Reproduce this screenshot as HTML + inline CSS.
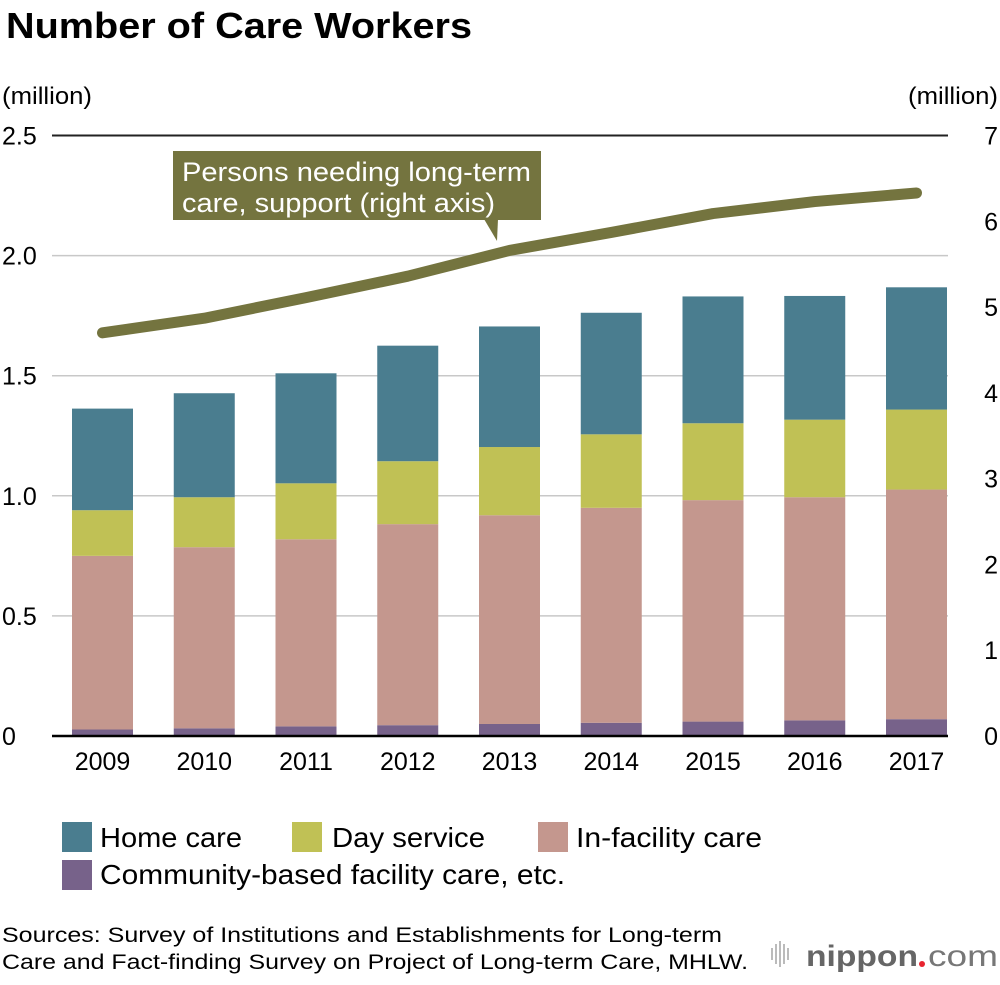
<!DOCTYPE html>
<html><head><meta charset="utf-8"><style>
body{margin:0;background:#fff;}
svg text{font-family:"Liberation Sans",Arial,sans-serif;}
</style></head><body>
<svg id="chart" width="1000" height="980" viewBox="0 0 1000 980" xmlns="http://www.w3.org/2000/svg">
<text x="6" y="38" font-size="36" font-weight="bold" fill="#000" textLength="466" lengthAdjust="spacingAndGlyphs">Number of Care Workers</text>
<text x="2" y="104" font-size="24" textLength="90" lengthAdjust="spacingAndGlyphs">(million)</text>
<text x="908" y="104" font-size="24" textLength="90" lengthAdjust="spacingAndGlyphs">(million)</text>
<g id="grid"></g>
<g id="bars"></g>
<g id="axes"></g>
<g id="line"></g>
<g>
<rect x="173" y="151" width="368" height="69" fill="#74743f"/>
<polygon points="484,219 498,219 497,241" fill="#74743f"/>
<text x="182" y="181" font-size="27" fill="#fff" textLength="349" lengthAdjust="spacingAndGlyphs">Persons needing long-term</text>
<text x="182" y="212" font-size="27" fill="#fff" textLength="313" lengthAdjust="spacingAndGlyphs">care, support (right axis)</text>
</g>
<g>
<g><rect x="62" y="822" width="30" height="30" fill="#4a7d8f"/><text x="100" y="847" font-size="28" textLength="142" lengthAdjust="spacingAndGlyphs">Home care</text></g>
<g><rect x="292" y="822" width="30" height="30" fill="#c0c155"/><text x="332" y="847" font-size="28" textLength="153" lengthAdjust="spacingAndGlyphs">Day service</text></g>
<g><rect x="538" y="822" width="30" height="30" fill="#c4978e"/><text x="576" y="847" font-size="28" textLength="186" lengthAdjust="spacingAndGlyphs">In-facility care</text></g>
<g><rect x="62" y="860" width="30" height="30" fill="#77628a"/><text x="100" y="884" font-size="28" textLength="465" lengthAdjust="spacingAndGlyphs">Community-based facility care, etc.</text></g>
</g>
<text x="2" y="942" font-size="21" textLength="720" lengthAdjust="spacingAndGlyphs">Sources: Survey of Institutions and Establishments for Long-term</text>
<text x="2" y="969" font-size="21" textLength="746" lengthAdjust="spacingAndGlyphs">Care and Fact-finding Survey on Project of Long-term Care, MHLW.</text>
<g>
<g fill="#bbb"><rect x="771" y="948" width="2" height="12"/><rect x="775" y="944" width="2" height="20"/><rect x="779" y="941" width="2" height="26"/><rect x="783" y="944" width="2" height="20"/><rect x="787" y="948" width="2" height="12"/></g>
<text x="806" y="966" font-size="30" font-weight="bold" fill="#666" textLength="112" lengthAdjust="spacingAndGlyphs">nippon</text>
<circle cx="922" cy="964" r="3" fill="#e8242f"/>
<text x="928" y="966" font-size="30" fill="#777" textLength="70" lengthAdjust="spacingAndGlyphs">com</text>
</g>
</svg>
<script>
const years = ["2009","2010","2011","2012","2013","2014","2015","2016","2017"];
const community = [0.027,0.032,0.040,0.045,0.050,0.055,0.060,0.065,0.070];
const inFacility = [0.723,0.754,0.779,0.837,0.869,0.895,0.922,0.929,0.956];
const dayService = [0.190,0.208,0.233,0.262,0.284,0.306,0.320,0.323,0.333];
const homeCare = [0.423,0.433,0.458,0.481,0.502,0.506,0.528,0.515,0.509];
const personsNeeding = [4.70,4.87,5.11,5.36,5.66,5.87,6.09,6.23,6.33];
const leftTicks = [0,0.5,1.0,1.5,2.0,2.5];
const leftTickLabels = ["0","0.5","1.0","1.5","2.0","2.5"];
const rightTicks = [0,1,2,3,4,5,6,7];

const NS="http://www.w3.org/2000/svg";
const x0=52,x1=948,y0=736,yTop=135.5;
const yL=v=>y0-(y0-yTop)*v/2.5;
const yR=v=>y0-(y0-yTop)*v/7;
const step=101.75;
const xC=i=>102.5+step*i;
const barW=61;
function mk(tag,attrs,parent){const e=document.createElementNS(NS,tag);for(const k in attrs)e.setAttribute(k,attrs[k]);parent.appendChild(e);return e;}
const gridG=document.getElementById('grid'),barsG=document.getElementById('bars'),axesG=document.getElementById('axes'),lineG=document.getElementById('line');
leftTicks.forEach((t,i)=>{
  if(t>0&&t<2.5){const l=mk('line',{x1:x0,x2:x1,y1:yL(t),y2:yL(t),stroke:'#c8c8c8','stroke-width':1.5},gridG);
  
  }
  const tx=mk('text',{x:2,y:yL(t)+9,'font-size':25},axesG);tx.textContent=leftTickLabels[i];
  
  
});
rightTicks.forEach(t=>{
  const tx=mk('text',{x:998,y:yR(t)+9,'font-size':25,'text-anchor':'end'},axesG);tx.textContent=String(t);
  
  
});
const series=[[community,'#77628a','community'],[inFacility,'#c4978e','in-facility'],[dayService,'#c0c155','day-service'],[homeCare,'#4a7d8f','home-care']];
years.forEach((yr,i)=>{
  let cum=0;
  series.forEach(([arr,col,nm])=>{
    const yt=yL(cum+arr[i]),yb=yL(cum);
    const r=mk('rect',{x:xC(i)-barW/2,y:yt,width:barW,height:yb-yt,fill:col},barsG);
    
    
    cum+=arr[i];
  });
  const tx=mk('text',{x:xC(i),y:770,'font-size':25,'text-anchor':'middle'},axesG);tx.textContent=yr;
  
  
});
const topLine=mk('line',{x1:x0,x2:x1,y1:yTop,y2:yTop,stroke:'#222','stroke-width':2},axesG);


const baseLine=mk('line',{x1:x0,x2:x1,y1:y0,y2:y0,stroke:'#000','stroke-width':2.5},axesG);


const pts=personsNeeding.map((v,i)=>xC(i)+','+yR(v)).join(' ');
const pl=mk('polyline',{points:pts,fill:'none',stroke:'#74743f','stroke-width':11,'stroke-linecap':'round','stroke-linejoin':'round'},lineG);


</script>
</body></html>
